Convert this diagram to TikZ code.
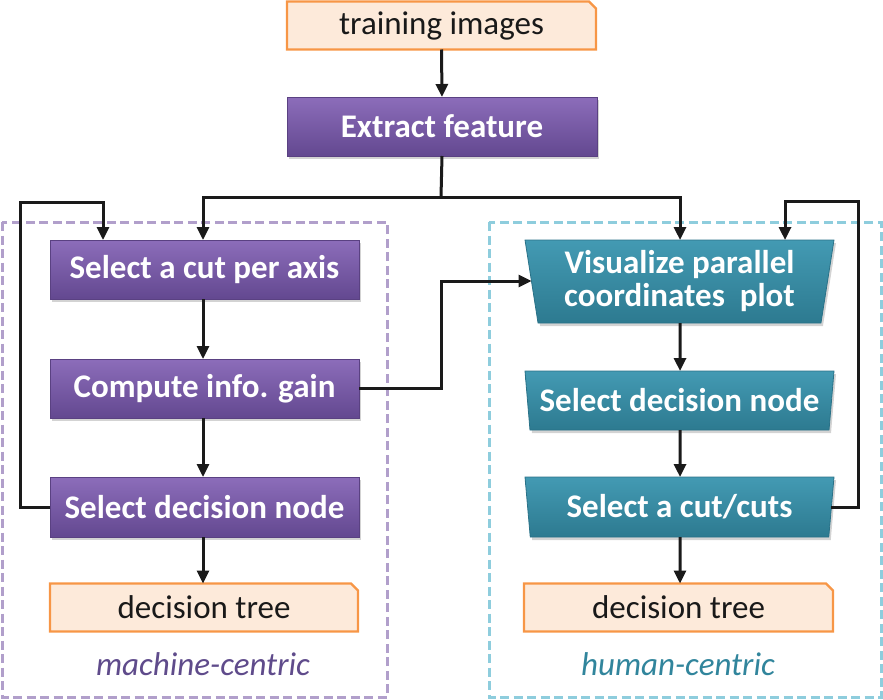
\documentclass[tikz,border=0pt]{standalone}
\usepackage{fontspec}
\setmainfont{Carlito}
\usetikzlibrary{shapes.geometric,arrows.meta,backgrounds,shadows}
\definecolor{pTop}{HTML}{8C6DBA}
\definecolor{pBot}{HTML}{634890}
\definecolor{pEdge}{HTML}{5A4182}
\definecolor{tTop}{HTML}{439AB3}
\definecolor{tBot}{HTML}{2D7A90}
\definecolor{tEdge}{HTML}{2A7288}
\definecolor{peachFill}{HTML}{FDEADA}
\definecolor{peachLine}{HTML}{F79646}
\definecolor{lpurple}{HTML}{B19FCB}
\definecolor{lteal}{HTML}{8ECDDD}
\definecolor{ptext}{HTML}{5F4B8B}
\definecolor{ttext}{HTML}{31859C}
\definecolor{lineC}{HTML}{1A1A1A}
\begin{document}
\begin{tikzpicture}[x=1pt,y=-1pt,
  every node/.style={inner sep=0pt,outer sep=0pt},
  paper/.style={minimum width=309pt,minimum height=48pt,font=\fontsize{33}{36}\selectfont,text=black!90},
  pbox/.style={rectangle,minimum width=309pt,minimum height=59pt,top color=pTop,bottom color=pBot,draw=pEdge,line width=0.8pt,
    font=\bfseries\fontsize{33}{36}\selectfont,text=white,
    drop shadow={opacity=0.35,shadow xshift=2pt,shadow yshift=-3pt}},
  tbox/.style={trapezium,shape border rotate=180,trapezium left angle=78,trapezium right angle=78,trapezium stretches body,
    minimum width=309pt,minimum height=59pt,top color=tTop,bottom color=tBot,draw=tEdge,line width=0.8pt,
    font=\bfseries\fontsize{33}{36}\selectfont,text=white,align=center,
    drop shadow={opacity=0.35,shadow xshift=2pt,shadow yshift=-3pt}},
  conn/.style={draw=lineC,line width=3pt,-{Triangle[length=13pt,width=12pt]}},
  plain/.style={draw=lineC,line width=3pt},
  group/.style={line width=3pt,dash pattern=on 9pt off 4.5pt}
]
\useasboundingbox (0,0) rectangle (883,699);
% group boxes
\draw[group,draw=lpurple] (2,222) rectangle (387,697);
\draw[group,draw=lteal] (489,222) rectangle (881,697);
% nodes
\node[paper] (train) at (441.5,25.5) {training images};
\node[pbox,minimum width=310pt] (ext) at (442,126.5) {Extract feature};
\node[pbox] (selcut) at (204.5,269.5) {Select a cut per axis};
\node[pbox] (comp) at (204.5,388.5) {Compute info. gain};
\node[pbox,minimum height=60pt] (seldl) at (204.5,507) {Select decision node};
\node[paper,minimum width=308pt] (dtl) at (204,607.5) {decision tree};
\node[tbox,minimum height=83pt,font=\bfseries\fontsize{33}{33}\selectfont] (vis) at (679.5,281.5) {Visualize parallel\\coordinates~~plot};
\node[tbox] (seldr) at (679.5,400.5) {Select decision node};
\node[tbox,minimum height=60pt] (selcr) at (679.5,507) {Select a cut/cuts};
\node[paper] (dtr) at (678.5,607.5) {decision tree};
\node[font=\itshape\fontsize{33}{36}\selectfont,text=ptext] (mc) at (203,664) {machine-centric};
\node[font=\itshape\fontsize{33}{36}\selectfont,text=ttext] (hc) at (678,664) {human-centric};
% paper backgrounds with folded corner
\begin{scope}[on background layer]
\foreach \n in {train,dtl,dtr}{
  \draw[fill=peachFill,draw=peachLine,line width=2.2pt,line join=miter]
    (\n.south west) -- (\n.north west) -- ([xshift=-7pt]\n.north east) -- ([yshift=-7pt]\n.north east) -- (\n.south east) -- cycle;
}
\end{scope}
% connectors
\coordinate (jn) at (441,197);
\coordinate (ll) at (20,202);
\coordinate (cv) at (441,281);
\coordinate (rl) at (858,201);
\draw[conn] (train.south) -- (ext.north);
\draw[plain] (ext.south) -- (jn);
\draw[conn] (jn) -| ([xshift=-1.5pt]selcut.north);
\draw[conn] (jn) -| ([xshift=0.5pt]vis.north);
\draw[conn] ([xshift=-1.5pt]selcut.south) -- ([xshift=-1.5pt]comp.north);
\draw[conn] ([xshift=-1.5pt]comp.south) -- ([xshift=-1.5pt]seldl.north);
\draw[conn] ([xshift=-1.5pt]seldl.south) -- ([xshift=-1pt]dtl.north);
\draw[conn] (seldl.west) -| (ll) -| ([xshift=-101.5pt]selcut.north);
\draw[conn] (comp.east) -| (cv) -- (cv -| vis.west);
\draw[conn] ([xshift=0.5pt]vis.south) -- ([xshift=0.5pt]seldr.north);
\draw[conn] ([xshift=0.5pt]seldr.south) -- ([xshift=0.5pt]selcr.north);
\draw[conn] ([xshift=0.5pt]selcr.south) -- ([xshift=1.5pt]dtr.north);
\draw[conn] (selcr.east) -| (rl) -| ([xshift=105.5pt]vis.north);
\end{tikzpicture}
\end{document}
